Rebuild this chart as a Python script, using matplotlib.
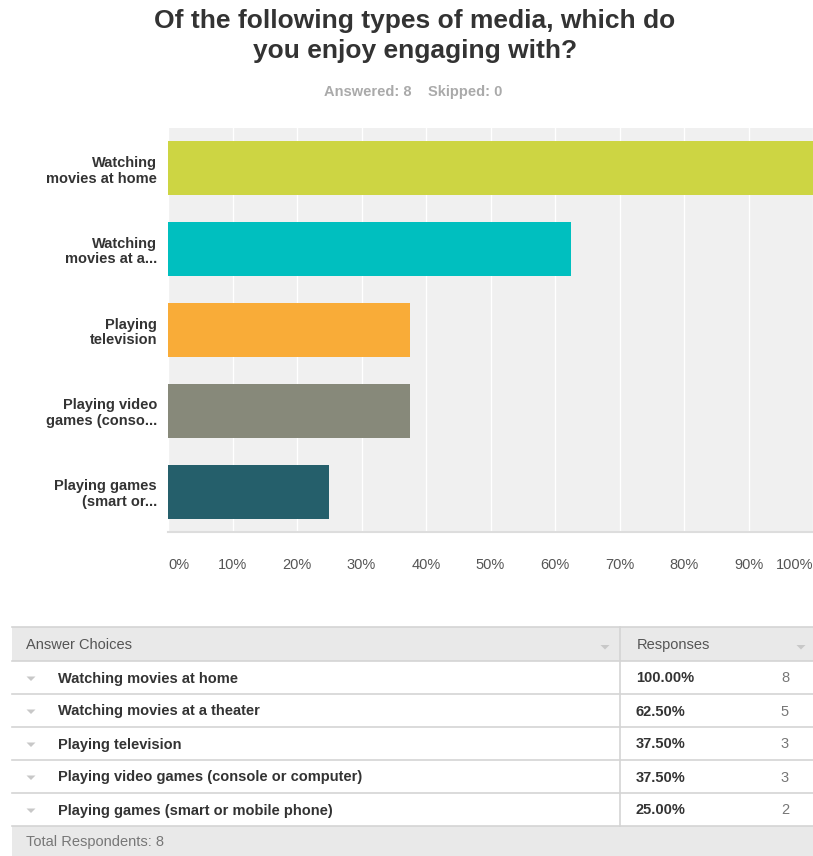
import matplotlib.pyplot as plt
from matplotlib.patches import Rectangle, Polygon
from matplotlib.lines import Line2D

plt.rcParams['font.family'] = ['Liberation Sans', 'DejaVu Sans']

# data
short_labels = ["Watching\nmovies at home", "Watching\nmovies at a...", "Playing\ntelevision",
                "Playing video\ngames (conso...", "Playing games\n(smart or..."]
full_labels = ["Watching movies at home", "Watching movies at a theater", "Playing television",
               "Playing video games (console or computer)", "Playing games (smart or mobile phone)"]
percents = [100.0, 62.5, 37.5, 37.5, 25.0]
counts = [8, 5, 3, 3, 2]
bar_colors = ["#cdd543", "#00bfbf", "#f9ac38", "#87897a", "#255f6b"]
tick_vals = list(range(0, 101, 10))

W, H = 813, 856
fig = plt.figure(figsize=(W / 100, H / 100), dpi=100)


def fx(px):
    return px / W


def fy(py):
    return 1 - py / H


def tri(cx, cy, color='#c8c8c8'):
    # small dropdown arrow
    pts = [(fx(cx - 4.5), fy(cy - 2)), (fx(cx + 4.5), fy(cy - 2)), (fx(cx), fy(cy + 2.5))]
    fig.patches.append(Polygon(pts, closed=True, transform=fig.transFigure,
                               facecolor=color, edgecolor='none'))


# title
fig.text(fx(415), fy(36), "Of the following types of media, which do\nyou enjoy engaging with?",
         ha='center', va='center', fontsize=19, fontweight='bold', color='#333333', linespacing=1.3)
fig.text(fx(413), fy(92), "Answered: 8    Skipped: 0", ha='center', va='center',
         fontsize=10.5, fontweight='bold', color='#aaaaaa')

# bar chart
ax = fig.add_axes([fx(168), fy(532), fx(645), 404 / H])
ax.set_facecolor('#f0f0f0')
y = list(range(len(percents)))
ax.barh(y, percents, height=0.67, color=bar_colors, zorder=3)
ax.set_xlim(0, 100)
ax.set_ylim(len(percents) - 0.5, -0.5)
ax.set_xticks(tick_vals)
ax.xaxis.grid(True, color='white', linewidth=1.0, zorder=1)
for s in ax.spines.values():
    s.set_visible(False)
ax.spines['bottom'].set_visible(True)
ax.spines['bottom'].set_color('#dddddd')
ax.spines['bottom'].set_linewidth(1.5)
ax.tick_params(length=0)
ax.set_yticks(y)
ax.set_yticklabels(short_labels, fontsize=10.5, fontweight='bold', color='#333333', linespacing=1.15)
ax.tick_params(axis='y', pad=8)
ax.set_xticklabels([f"{v}%" for v in tick_vals], fontsize=10.5, color='#555555')
ax.tick_params(axis='x', pad=19)
xt = ax.get_xticklabels()
xt[0].set_ha('left')
xt[-1].set_ha('right')

# table
left, right = 12, 813
divx = 620
top = 627
head_h = 34
row_h = 33
line_c = '#d4d4d4'
fs = 10.5
fig.patches.append(Rectangle((fx(left), fy(top + head_h)), fx(right - left), head_h / H,
                             transform=fig.transFigure, facecolor='#e9e9e9', edgecolor='none'))
foot_top = top + head_h + row_h * len(full_labels)
fig.patches.append(Rectangle((fx(left), fy(H)), fx(right - left), (H - foot_top) / H,
                             transform=fig.transFigure, facecolor='#e9e9e9', edgecolor='none'))

hy = top + head_h / 2 + 1
fig.text(fx(26), fy(hy), "Answer Choices", ha='left', va='center', fontsize=fs, color='#555555')
fig.text(fx(637), fy(hy), "Responses", ha='left', va='center', fontsize=fs, color='#555555')
tri(605, hy + 2)
tri(801, hy + 2)

hlines = [top, top + head_h] + [top + head_h + row_h * (i + 1) for i in range(len(full_labels))]
for ly in hlines:
    fig.lines.append(Line2D([fx(left), fx(right)], [fy(ly), fy(ly)], transform=fig.transFigure,
                            color=line_c, linewidth=1.2))
fig.lines.append(Line2D([fx(divx), fx(divx)], [fy(top), fy(foot_top)], transform=fig.transFigure,
                        color=line_c, linewidth=1.2))

for i, (lab, p, c) in enumerate(zip(full_labels, percents, counts)):
    cy = top + head_h + row_h * i + row_h / 2 + 1
    tri(31, cy)
    fig.text(fx(58), fy(cy), lab, ha='left', va='center', fontsize=fs, fontweight='bold', color='#333333')
    fig.text(fx(636), fy(cy), f"{p:.2f}%", ha='left', va='center', fontsize=fs, fontweight='bold',
             color='#333333')
    fig.text(fx(785), fy(cy), str(c), ha='center', va='center', fontsize=fs, color='#777777')

fig.text(fx(26), fy((foot_top + H) / 2 + 1), "Total Respondents: 8", ha='left', va='center',
         fontsize=fs, color='#777777')

fig.savefig("out.png", dpi=100)
